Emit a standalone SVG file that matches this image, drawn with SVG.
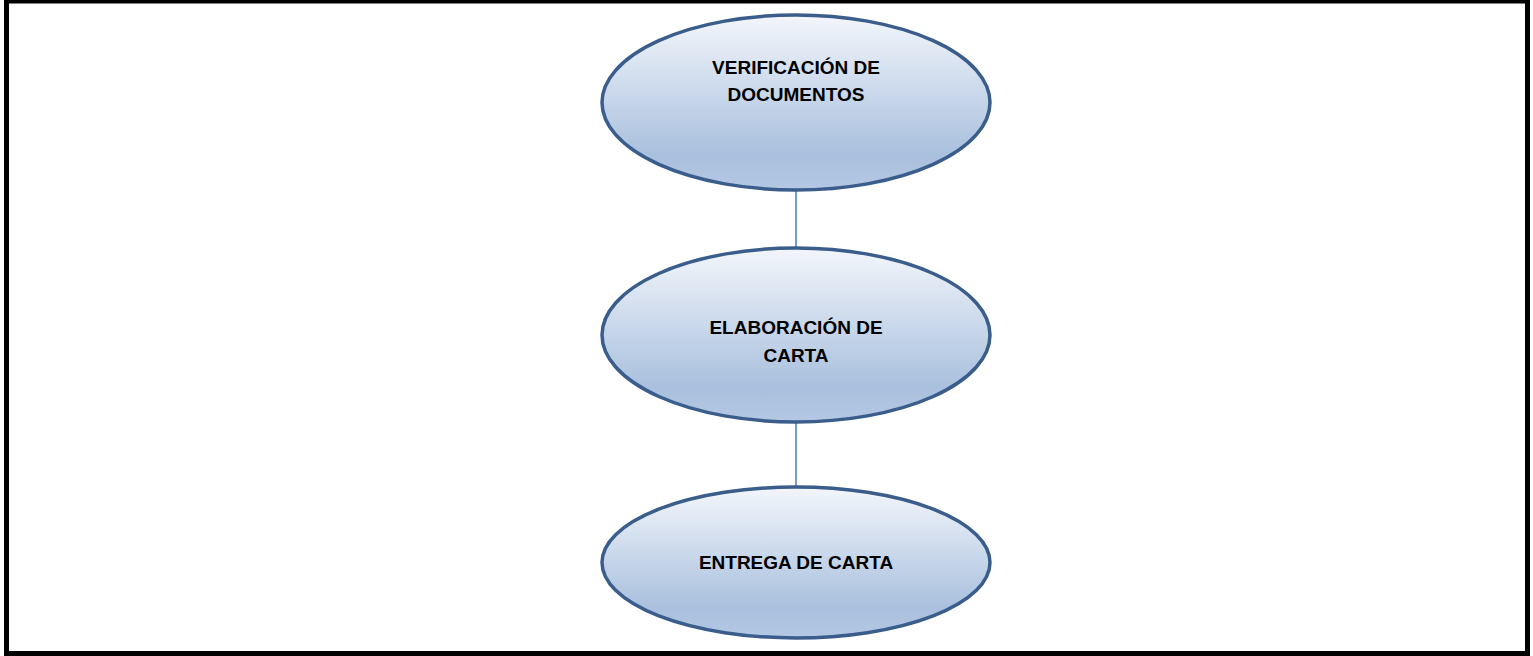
<svg xmlns="http://www.w3.org/2000/svg" width="1533" height="656" viewBox="0 0 1533 656">
<defs>
<linearGradient id="g" x1="0" y1="0" x2="0" y2="1">
<stop offset="0" stop-color="#f3f6fb"/>
<stop offset="0.8" stop-color="#a9c0de"/>
<stop offset="1" stop-color="#b3c8e3"/>
</linearGradient>
<style>
.n{fill:url(#g);stroke:#3a5d8c;stroke-width:3.5}
.t{font-family:"Liberation Sans",Arial,sans-serif;font-weight:bold;font-size:19px;fill:#000;text-anchor:middle}
.c{stroke:#4a7ebb;stroke-width:1.5;fill:none}
</style>
</defs>
<rect x="0" y="0" width="1533" height="656" fill="#fff"/>
<rect x="6.5" y="1" width="1521" height="652.5" fill="none" stroke="#000" stroke-width="5"/>
<g id="connectors">
<line class="c" x1="796" y1="190" x2="796" y2="248"/>
<line class="c" x1="796" y1="422" x2="796" y2="487"/>
</g>
<g id="n1">
<ellipse class="n" cx="796" cy="102.5" rx="194" ry="87.5"/>
<text class="t" x="796" y="73.5">VERIFICACIÓN DE</text>
<text class="t" x="796" y="100.5">DOCUMENTOS</text>
</g>
<g id="n2">
<ellipse class="n" cx="796" cy="335" rx="194" ry="87"/>
<text class="t" x="796" y="333.5">ELABORACIÓN DE</text>
<text class="t" x="796" y="361.5">CARTA</text>
</g>
<g id="n3">
<ellipse class="n" cx="796" cy="562.5" rx="194" ry="75.5"/>
<text class="t" x="796" y="568.5">ENTREGA DE CARTA</text>
</g>
</svg>
